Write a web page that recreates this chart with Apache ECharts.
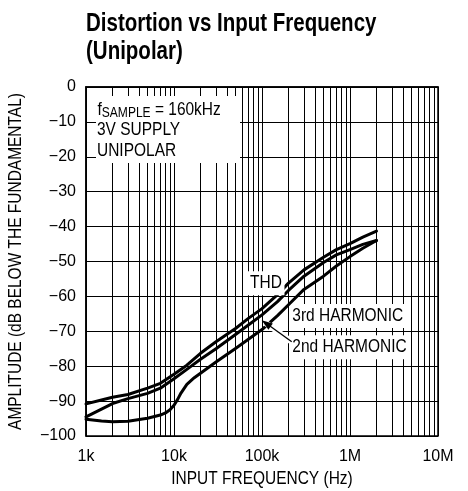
<!DOCTYPE html>
<html><head><meta charset="utf-8">
<script src="https://cdn.jsdelivr.net/npm/echarts@6/dist/echarts.min.js"></script>
<style>html,body{margin:0;padding:0;background:#fff}#c{width:468px;height:491px}</style>
</head><body><div id="c"></div>
<script>
const FONT = "'Liberation Sans',Arial,Helvetica,sans-serif";
const SQ = 0.86; // horizontal squeeze to imitate a condensed face

// Tick labels
const xTickLabels = {1000:'1k', 10000:'10k', 100000:'100k', 1000000:'1M', 10000000:'10M'};
const yMin = -100, yMax = 0, yStep = 10;

// Frequencies (Hz) and amplitudes (dB)
const freqA  = [1000,1500,2000,3000,5000,7000,10000,14000,20000,30000,50000,70000,100000,150000,200000,300000,500000,700000,1000000,1400000,2000000];
const thd    = [-90.8,-89.7,-88.9,-88.1,-86.3,-84.9,-82.3,-79.7,-76.3,-73.0,-69.2,-66.3,-63.5,-59.5,-56.2,-52.4,-48.8,-46.6,-44.9,-43.0,-41.3];
const second = [-94.5,-92.3,-90.7,-89.3,-87.8,-86.3,-83.6,-80.9,-78.0,-75.0,-70.9,-68.2,-65.3,-61.5,-58.3,-54.2,-50.3,-48.1,-46.6,-45.1,-44.0];
const freqB  = [1000,1500,2000,3000,5000,7000,8000,9000,10000,11000,12000,14000,17000,20000,30000,50000,70000,100000,150000,200000,300000,500000,700000,1000000,1400000,2000000];
const third  = [-95.2,-95.7,-95.9,-95.8,-94.9,-94.0,-93.4,-92.5,-91.2,-89.5,-87.7,-85.2,-83.3,-82.0,-78.8,-74.9,-72.3,-69.5,-65.5,-62.4,-58.0,-54.2,-51.3,-48.6,-46.2,-44.0];

// minor (2..9 per decade) vertical grid values
const minorGrid = [];
[1e3,1e4,1e5,1e6].forEach(d => { for (let m = 2; m <= 9; m++) minorGrid.push(m*d); });

const pairs = (xs, ys) => xs.map((x,i) => [x, ys[i]]);
const minus = v => (v < 0 ? '\u2212' + (-v) : String(v));

const chart = echarts.init(document.getElementById('c'), null, {renderer:'canvas'});
const curveStyle = {color:'#000', width:3, join:'round', cap:'round'};
const curve = (name, data) => ({name, type:'line', z:3, data, showSymbol:false, smooth:false, lineStyle:curveStyle});
chart.setOption({
  animation:false,
  backgroundColor:'#fff',
  grid:{left:86, right:30, top:87, bottom:55, show:true, borderColor:'#000', borderWidth:1.5, backgroundColor:'transparent'},
  xAxis:{
    type:'log', logBase:10, min:1000, max:10000000,
    axisLine:{show:true, lineStyle:{color:'#000', width:1.5}},
    axisTick:{show:false},
    axisLabel:{fontFamily:FONT, fontSize:16, color:'#000', margin:13,
      formatter: v => xTickLabels[Math.round(v)] || ''},
    splitLine:{show:true, lineStyle:{color:'#000', width:1}}
  },
  yAxis:{
    type:'value', min:yMin, max:yMax, interval:yStep,
    axisLine:{show:true, lineStyle:{color:'#000', width:1.5}},
    axisTick:{show:false},
    axisLabel:{fontFamily:FONT, fontSize:16, color:'#000', margin:10, formatter: minus},
    splitLine:{show:true, lineStyle:{color:'#000', width:1}}
  },
  series:[
    {type:'line', z:1, data:[], silent:true,
     markLine:{silent:true, symbol:'none', label:{show:false},
       lineStyle:{color:'#000', width:1, type:'solid'},
       data: minorGrid.map(v => ({xAxis:v}))}},
    curve('THD', pairs(freqA, thd)),
    curve('2nd HARMONIC', pairs(freqA, second)),
    curve('3rd HARMONIC', pairs(freqB, third))
  ]
});

const P = (f, db) => chart.convertToPixel({gridIndex:0}, [f, db]);
const corner = P(1000, 0), far = P(10000000, -100);
const txt = (x, y, text, align, extra, elExtra) => Object.assign({
  type:'text', z:100, x:x, y:y, scaleX:SQ,
  style:Object.assign({text:text, fill:'#000', fontFamily:FONT, fontSize:18,
    align:align, textAlign:align, verticalAlign:'middle', textVerticalAlign:'middle'}, extra||{})
}, elExtra||{});

const g = [];
// title
g.push(txt(corner[0], 24, 'Distortion vs Input Frequency', 'left', {fontSize:25, fontWeight:'bold'}, {scaleX:0.82}));
g.push(txt(corner[0], 52, '(Unipolar)', 'left', {fontSize:25, fontWeight:'bold'}, {scaleX:0.82}));
// axis names
g.push(txt((corner[0]+far[0])/2, 479, 'INPUT FREQUENCY (Hz)', 'center'));
g.push(txt(16, (corner[1]+far[1])/2, 'AMPLITUDE (dB BELOW THE FUNDAMENTAL)', 'center', null, {rotation:Math.PI/2}));

// annotation box
g.push({type:'rect', z:99, shape:{x:corner[0]+10, y:corner[1]+9, width:144, height:67}, style:{fill:'#fff'}});
g.push(txt(corner[0]+11.5, corner[1]+23, '{a|f}{s|SAMPLE}{a| = 160kHz}', 'left', {
  rich:{a:{fontFamily:FONT, fontSize:18, fill:'#000', lineHeight:20},
        s:{fontFamily:FONT, fontSize:14, fill:'#000', verticalAlign:'bottom', lineHeight:20}}}));
g.push(txt(corner[0]+11, corner[1]+43, '3V SUPPLY', 'left'));
g.push(txt(corner[0]+11, corner[1]+64, 'UNIPOLAR', 'left'));

// curve labels
const pT = P(111000, -56.2);
g.push(txt(pT[0], pT[1], 'THD', 'center', {backgroundColor:'#fff', padding:[3,3,3,3]}));
const p3 = P(216000, -65.6);
g.push(txt(p3[0], p3[1], '3rd HARMONIC', 'left', {backgroundColor:'#fff', padding:[3,3,3,1]}));
const p2 = P(216000, -74.6);
g.push(txt(p2[0], p2[1], '2nd HARMONIC', 'left', {backgroundColor:'#fff', padding:[3,3,3,1]}));

// arrow from 2nd HARMONIC label to its curve
const tail = P(217600, -73.0), tip = P(99200, -66.8);
const dx = tip[0]-tail[0], dy = tip[1]-tail[1], L = Math.hypot(dx, dy);
const ux = dx/L, uy = dy/L, px = -uy, py = ux;
g.push({type:'polyline', z:98, shape:{points:[tail, [tip[0]-ux*4, tip[1]-uy*4]]}, style:{stroke:'#fff', lineWidth:6, fill:null}});
g.push({type:'polyline', z:101, shape:{points:[tail, [tip[0]-ux*8, tip[1]-uy*8]]}, style:{stroke:'#000', lineWidth:1.3, fill:null}});
g.push({type:'polygon', z:101, shape:{points:[tip,
  [tip[0]-ux*11+px*3.8, tip[1]-uy*11+py*3.8],
  [tip[0]-ux*11-px*3.8, tip[1]-uy*11-py*3.8]]}, style:{fill:'#000'}});

chart.setOption({graphic:{elements:g}});
</script></body></html>
